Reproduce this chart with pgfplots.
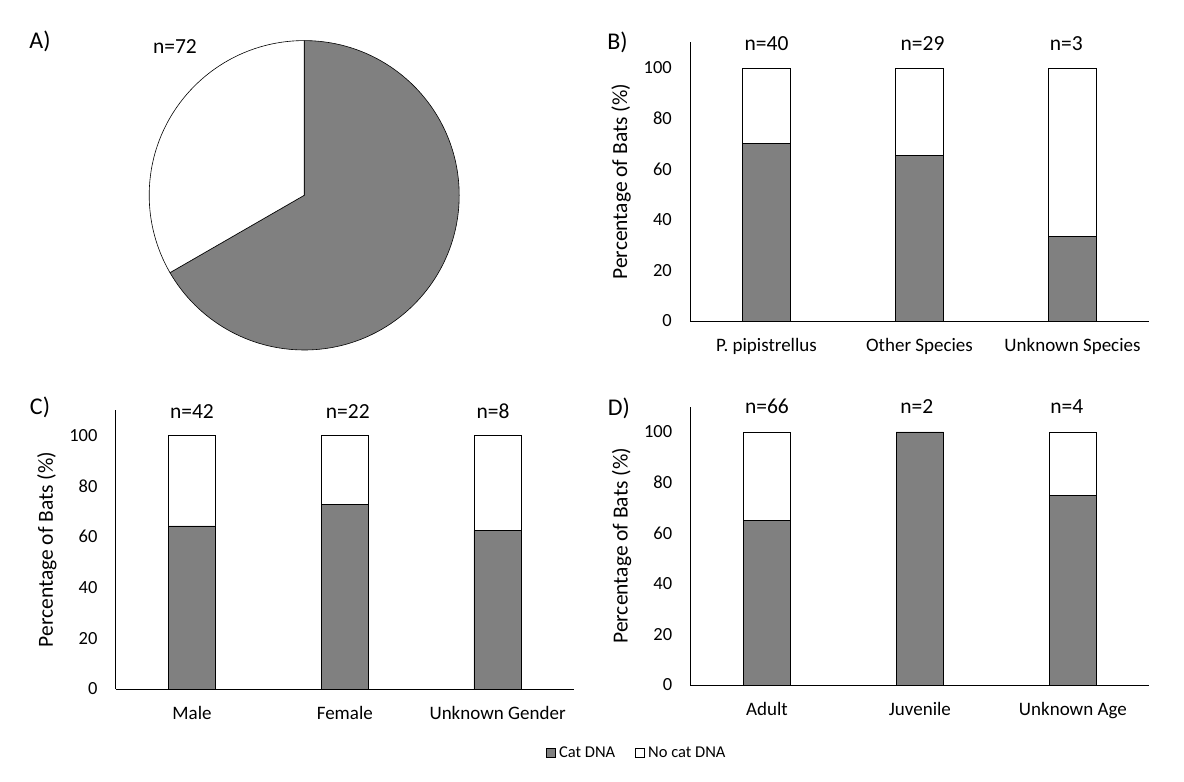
\documentclass[border=0pt]{standalone}
\usepackage{fontspec}
\setmainfont{Carlito}
\usepackage{pgfplots}
\pgfplotsset{compat=1.18}
\definecolor{catgray}{RGB}{128,128,128}

\tikzset{
  nlab/.style={font=\fontsize{21.5}{24}\selectfont, inner sep=0pt},
  plab/.style={font=\fontsize{24}{26}\selectfont, inner sep=0pt},
}
\pgfplotsset{
  batbar/.style={
    scale only axis,
    width=459pt, height=278.5pt,
    ybar stacked, bar width=0.31,
    xmin=-0.5, xmax=2.5, ymin=0, ymax=110,
    axis lines=left, axis line style={-, line width=0.8pt},
    ytick={0,20,40,60,80,100},
    xtick={0,1,2},
    major tick length=0pt,
    /pgf/number format/assume math mode=true,
    yticklabel style={font=\fontsize{18.5}{20}\selectfont, anchor=east, inner sep=0pt, xshift=-18pt},
    xticklabel style={font=\fontsize{19}{21}\selectfont, anchor=base, inner sep=0pt, yshift=-31pt},
    ylabel={Percentage of Bats (\%)},
    every axis y label/.style={at={(axis description cs:-0.15,0.5)}, rotate=90, anchor=center,
      font=\fontsize{21.5}{24}\selectfont, inner sep=0pt},
    clip=false,
  },
  catbar/.style={fill=catgray, draw=black, line width=0.6pt},
  nobar/.style={fill=white, draw=black, line width=0.6pt},
}

\begin{document}
\begin{tikzpicture}
\useasboundingbox (0pt,0pt) rectangle (1184pt,782pt);

% ---------- A) pie ----------
\pgfmathsetmacro{\catA}{48}
\pgfmathsetmacro{\noA}{24}
\pgfmathsetmacro{\endGray}{90-360*(\catA/(\catA+\noA))}
\begin{axis}[at={(304.2pt,586.7pt)}, anchor=center, scale only axis,
  width=310pt, height=309.4pt, xmin=-1, xmax=1, ymin=-1, ymax=1,
  hide axis, clip=false]
  \filldraw[fill=catgray, draw=black, line width=0.6pt] (axis cs:0,0) -- (axis cs:0,1)
     arc[start angle=90, end angle=\endGray, x radius=155pt, y radius=154.7pt] -- cycle;
  \filldraw[fill=white, draw=black, line width=0.6pt] (axis cs:0,0) -- (axis cs:0,1)
     arc[start angle=90, end angle={\endGray+360}, x radius=155pt, y radius=154.7pt] -- cycle;
\end{axis}
\node[plab] at (40pt,740.5pt) {A)};
\node[nlab] at (175pt,735.3pt) {n=72};

% ---------- B) species ----------
\begin{axis}[batbar, at={(690pt,461pt)}, anchor=south west,
  xticklabels={P. pipistrellus, Other Species, Unknown Species}]
  \addplot[catbar] coordinates {(0,70) (1,65.5) (2,33.3)};
  \addplot[nobar] coordinates {(0,30) (1,34.5) (2,66.7)};
  \node[nlab] at (axis cs:0,109.6) {n=40};
  \node[nlab] at (axis cs:1.02,109.6) {n=29};
  \node[nlab] at (axis cs:1.96,109.6) {n=3};
\end{axis}
\node[plab] at (617.5pt,739.5pt) {B)};

% ---------- C) gender ----------
\begin{axis}[batbar, at={(115.6pt,93pt)}, anchor=south west, width=458.4pt, height=279pt,
  xticklabels={Male, Female, Unknown Gender},
  legend style={at={(1.137,-0.229)}, anchor=center, draw=none, fill=none,
    font=\fontsize{16.5}{18}\selectfont, legend columns=2,
    /tikz/every odd column/.append style={column sep=1.5pt},
    /tikz/every even column/.append style={column sep=18pt}},
  legend image code/.code={\draw[#1, draw=black, line width=0.5pt] (0pt,-4.5pt) rectangle (9pt,4.5pt);}]
  \addplot[catbar] coordinates {(0,64.3) (1,72.7) (2,62.5)};
  \addplot[nobar] coordinates {(0,35.7) (1,27.3) (2,37.5)};
  \legend{Cat DNA, No cat DNA}
  \node[nlab] at (axis cs:0,109.4) {n=42};
  \node[nlab] at (axis cs:1.02,109.4) {n=22};
  \node[nlab] at (axis cs:1.97,109.4) {n=8};
\end{axis}
\node[plab] at (40pt,375pt) {C)};

% ---------- D) age ----------
\begin{axis}[batbar, at={(690.4pt,97pt)}, anchor=south west, height=278.3pt,
  xticklabels={Adult, Juvenile, Unknown Age}]
  \addplot[catbar] coordinates {(0,65.2) (1,100) (2,75)};
  \addplot[nobar] coordinates {(0,34.8) (1,0) (2,25)};
  \node[nlab] at (axis cs:0,110.2) {n=66};
  \node[nlab] at (axis cs:0.98,110.2) {n=2};
  \node[nlab] at (axis cs:1.96,110.2) {n=4};
\end{axis}
\node[plab] at (619pt,374pt) {D)};
\end{tikzpicture}
\end{document}
